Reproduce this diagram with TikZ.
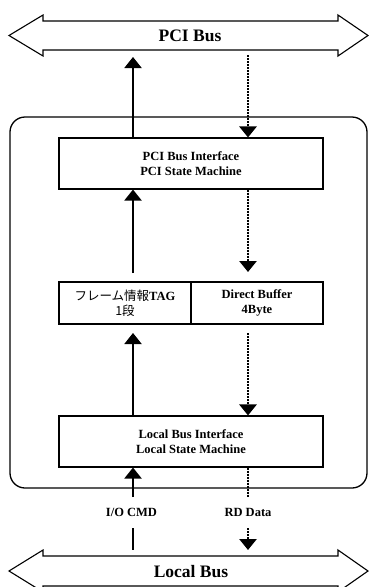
\documentclass[tikz,border=0pt]{standalone}
\usepackage{fontspec}
\setmainfont{Liberation Serif}
\newfontfamily\jp{Noto Sans CJK JP}
\usetikzlibrary{arrows.meta}
\tikzset{
  busshape/.style={draw, line width=1.1pt, fill=white, line join=miter},
  bustext/.style={font=\fontsize{17.5}{20}\selectfont\bfseries, inner sep=0pt},
  blockbox/.style={draw, line width=1.1pt, align=center, inner sep=0pt,
    font=\fontsize{12.5}{15}\selectfont\bfseries},
  outerbox/.style={draw, line width=1.3pt, rounded corners=15pt, inner sep=0pt},
  solidarr/.style={line width=2pt, -{Triangle[width=17pt,length=11pt]}},
  solidline/.style={line width=2pt},
  dotarr/.style={line width=2.8pt, dash pattern=on 2pt off 1pt, -{Triangle[width=17pt,length=11pt]}},
  dotline/.style={line width=2.8pt, dash pattern=on 2pt off 1pt},
  lbl/.style={font=\fontsize{12.5}{15}\selectfont\bfseries, inner sep=0pt}
}
\begin{document}
\begin{tikzpicture}[x=1pt,y=-1pt]
\useasboundingbox (0,0) rectangle (369,587);
% buses
\draw[busshape] (9,35.5) -- (43,15) -- (43,21) -- (338,21) -- (338,15) -- (368,35.5) -- (338,56) -- (338,50) -- (43,50) -- (43,56) -- cycle;
\node[bustext] (pcibus) at (190,35.5) {PCI Bus};
\draw[busshape] (9,571) -- (43,550) -- (43,556) -- (338,556) -- (338,550) -- (368,571) -- (338,592) -- (338,586) -- (43,586) -- (43,592) -- cycle;
\node[bustext] (localbus) at (191,572) {Local Bus};
% outer
\node[outerbox, minimum width=357pt, minimum height=371pt] (outer) at (188.5,302.5) {};
% blocks
\node[blockbox, minimum width=264pt, minimum height=51pt] (pcibox) at (191,163.5) {PCI Bus Interface\\PCI State Machine};
\node[blockbox, minimum width=132pt, minimum height=42pt] (tag) at (125,303) {{\jp\mdseries フレーム情報}TAG\\{\jp\mdseries 1段}};
\node[blockbox, minimum width=132pt, minimum height=42pt] (buf) at (257,303) {Direct Buffer\\4Byte};
\node[blockbox, minimum width=264pt, minimum height=51pt] (localbox) at (191,441.5) {Local Bus Interface\\Local State Machine};
% labels
\node[lbl] (io) at (131.5,512) {I/O CMD};
\node[lbl] (rd) at (248,512) {RD Data};
% coordinates
\coordinate (ax) at (133,0);
\coordinate (dx) at (248,0);
\coordinate (a1) at (133,57);
\coordinate (d1) at (248,55);
\coordinate (a2) at (133,273);
\coordinate (d2) at (248,272);
\coordinate (a3) at (133,333);
\coordinate (d3) at (248,333);
\coordinate (a4) at (133,497);
\coordinate (a5) at (133,528);
\coordinate (a6) at (133,550);
\coordinate (d4) at (248,497);
\coordinate (d5) at (248,528);
\coordinate (d6) at (248,550);
% arrows
\draw[solidarr] (ax |- pcibox.north) -- (a1);
\draw[dotarr] (d1) -- (dx |- pcibox.north);
\draw[solidarr] (a2) -- (ax |- pcibox.south);
\draw[dotarr] (dx |- pcibox.south) -- (d2);
\draw[solidarr] (ax |- localbox.north) -- (a3);
\draw[dotarr] (d3) -- (dx |- localbox.north);
\draw[solidarr] (a4) -- (ax |- localbox.south);
\draw[solidline] (a5) -- (a6);
\draw[dotline] (dx |- localbox.south) -- (d4);
\draw[dotarr] (d5) -- (d6);
\end{tikzpicture}
\end{document}
